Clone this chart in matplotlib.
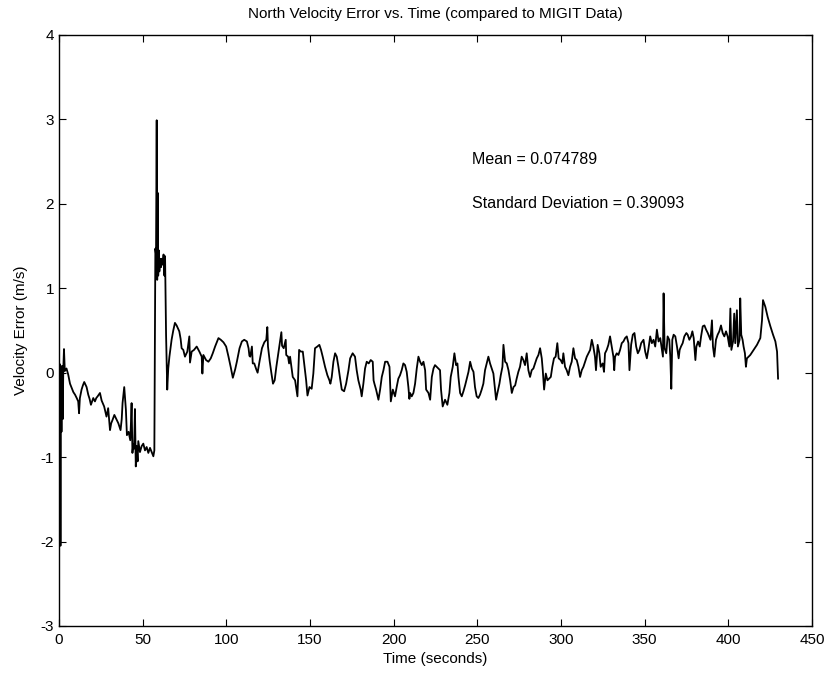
import numpy as np
import matplotlib
matplotlib.use("Agg")
import matplotlib.pyplot as plt

plt.rcParams['font.family'] = ['Liberation Sans', 'DejaVu Sans']
plt.rcParams['axes.unicode_minus'] = False

# values, split into stretches of the run
t_start = [0.0, 0.3, 0.6, 0.9, 1.2, 1.5, 1.8, 2.2, 2.6, 3.0, 3.5, 4.5, 5.5, 6.6, 7.6,
           8.6, 9.6, 10.6, 11.5, 12.0, 12.5, 13.5, 14.3, 15.1, 16.5, 17.5, 18.3, 19.1,
           20.5, 21.5, 22.3, 23.1, 24.5, 25.5, 27.0, 28.4, 29.4, 30.5, 31.2, 32.0, 33.1,
           34.5, 35.5, 36.8, 37.5, 38.0, 39.0, 40.0, 40.6, 41.6, 42.6, 43.0, 43.4, 43.9,
           44.4, 44.9, 45.4, 45.9, 46.4, 47.0, 47.4, 48.4, 49.4, 50.4, 51.4, 52.4, 53.4,
           54.4, 55.4, 56.4, 57.0]
v_start = [0.05, -0.75, 0.10, -2.05, 0.05, -0.70, 0.08, -0.55, 0.05, 0.28, 0.02, 0.05,
           -0.02, -0.13, -0.18, -0.23, -0.26, -0.30, -0.34, -0.48, -0.30, -0.20, -0.15,
           -0.11, -0.17, -0.26, -0.31, -0.38, -0.30, -0.34, -0.30, -0.28, -0.24, -0.33,
           -0.40, -0.52, -0.42, -0.68, -0.60, -0.56, -0.50, -0.56, -0.60, -0.68, -0.55,
           -0.36, -0.17, -0.44, -0.74, -0.70, -0.80, -0.60, -0.36, -0.95, -0.85, -0.90,
           -0.43, -1.11, -0.87, -1.05, -0.81, -0.94, -0.87, -0.84, -0.92, -0.88, -0.95,
           -0.89, -0.94, -0.99, -0.92]

t_jump = [57.6, 58.0, 58.4, 58.7, 59.0, 59.3, 59.6, 60.0, 60.5, 61.0, 61.5, 62.0, 62.5,
          63.0, 63.4, 64.0, 64.7, 65.3, 66.0, 67.3, 68.3, 69.3, 70.3, 71.9, 72.7, 73.3,
          74.3, 75.3, 76.7, 77.9, 78.3, 79.3, 80.7, 82.3, 83.9, 85.3, 85.7, 86.3, 87.9,
          89.3, 90.7, 91.9, 93.3, 95.3, 96.7, 98.3, 99.9, 101.3, 102.7, 103.9, 105.3,
          106.3, 107.9, 109.3, 110.7, 112.3, 113.3, 113.8, 114.3, 115.3, 115.8, 116.7,
          117.9, 118.7, 119.9, 121.3, 122.7, 123.9, 124.5, 124.9, 125.9, 126.9, 127.9,
          128.9, 129.9, 131.5, 132.9, 133.3, 134.3, 135.5, 135.8, 136.9, 137.5]
v_jump = [1.47, 1.40, 2.99, 1.10, 2.13, 1.15, 1.45, 1.20, 1.35, 1.25, 1.35, 1.28, 1.40,
          1.15, 1.38, 0.45, -0.20, 0.05, 0.19, 0.39, 0.50, 0.59, 0.56, 0.49, 0.40, 0.29,
          0.27, 0.19, 0.25, 0.43, 0.12, 0.25, 0.27, 0.31, 0.25, 0.19, -0.01, 0.21, 0.15,
          0.13, 0.17, 0.23, 0.31, 0.41, 0.39, 0.36, 0.31, 0.19, 0.06, -0.06, 0.04, 0.13,
          0.29, 0.37, 0.39, 0.37, 0.29, 0.20, 0.19, 0.31, 0.11, 0.11, 0.04, 0.00, 0.14,
          0.29, 0.36, 0.39, 0.54, 0.31, 0.14, 0.00, -0.13, -0.09, 0.07, 0.29, 0.48, 0.32,
          0.29, 0.39, 0.21, 0.19, 0.11]

t_mid = [138.1, 139.7, 141.1, 142.5, 143.0, 143.5, 144.5, 145.7, 146.5, 147.7, 148.5,
         149.7, 151.0, 152.0, 153.0, 154.4, 155.6, 156.6, 157.6, 159.0, 160.4, 161.6,
         162.2, 163.0, 164.0, 165.0, 166.0, 167.0, 168.0, 169.0, 170.4, 171.6, 173.0,
         174.0, 175.5, 176.9, 177.9, 178.9, 180.3, 180.9, 181.9, 182.9, 183.9, 185.1,
         186.3, 187.5, 188.0, 188.5, 189.5, 190.9, 191.9, 192.9, 193.9, 194.9, 196.3,
         197.5, 198.3, 199.5, 200.8, 201.8, 202.8, 203.8, 204.8, 205.8, 206.8, 207.8,
         208.8, 209.4]
v_mid = [0.19, -0.05, -0.09, -0.28, 0.00, 0.27, 0.25, 0.25, 0.11, -0.09, -0.27, -0.17,
         -0.19, -0.01, 0.29, 0.31, 0.33, 0.27, 0.19, 0.07, -0.03, -0.09, -0.13, -0.05,
         0.13, 0.23, 0.19, 0.07, -0.07, -0.20, -0.22, -0.13, 0.03, 0.17, 0.23, 0.19, 0.03,
         -0.09, -0.20, -0.28, -0.13, 0.05, 0.13, 0.11, 0.15, 0.13, -0.09, -0.13, -0.20,
         -0.32, -0.20, -0.05, 0.03, 0.13, 0.13, 0.07, -0.34, -0.20, -0.28, -0.17, -0.07,
         -0.03, 0.03, 0.11, 0.09, 0.01, -0.17, -0.31]

t_low = [209.8, 210.8, 211.8, 212.8, 213.8, 214.8, 215.8, 216.8, 217.8, 218.8, 219.4,
         220.8, 221.8, 222.8, 223.8, 224.7, 225.7, 226.7, 227.7, 228.3, 229.3, 230.7,
         232.1, 233.3, 234.1, 235.3, 236.3, 237.3, 238.1, 238.7, 239.7, 240.7, 241.7,
         242.7, 243.7, 244.7, 245.7, 246.7, 247.7, 248.6, 249.6, 250.6, 251.6, 252.6,
         253.6, 254.6, 255.6, 256.6, 257.6, 258.6, 259.6, 260.6, 261.2, 262.0, 263.2,
         264.0, 265.0, 265.6, 266.6, 267.6, 268.6, 269.6, 270.6, 271.6, 272.6, 273.5,
         274.5, 275.5, 276.5, 277.5, 278.5, 279.5, 280.5]
v_low = [-0.24, -0.28, -0.24, -0.13, 0.05, 0.19, 0.13, 0.09, 0.13, 0.03, -0.20, -0.24,
         -0.32, -0.05, 0.05, 0.09, 0.07, 0.05, 0.03, -0.20, -0.40, -0.32, -0.38, -0.24,
         -0.05, 0.07, 0.23, 0.09, 0.11, -0.05, -0.24, -0.28, -0.22, -0.15, -0.07, 0.01,
         0.13, 0.05, 0.01, -0.17, -0.28, -0.30, -0.26, -0.20, -0.13, 0.03, 0.11, 0.19,
         0.11, 0.05, -0.01, -0.20, -0.32, -0.24, -0.13, -0.03, 0.07, 0.33, 0.13, 0.11,
         0.03, -0.09, -0.24, -0.17, -0.15, -0.07, 0.01, 0.07, 0.19, 0.15, 0.09, 0.23, 0.03]

t_rise = [281.5, 282.5, 283.5, 284.5, 285.5, 286.5, 287.5, 288.5, 289.1, 289.9, 290.9,
          291.9, 292.9, 293.9, 294.8, 295.8, 296.8, 297.8, 298.6, 299.8, 300.8, 301.4,
          302.4, 303.4, 304.4, 305.4, 306.4, 307.4, 308.4, 309.4, 310.4, 311.4, 312.4,
          313.4, 314.4, 315.4, 316.4, 317.4, 318.4, 319.3, 320.3, 320.9, 321.9, 322.9,
          323.7, 324.9, 325.7, 326.3, 327.3, 328.3, 329.3, 330.3, 331.3, 331.8, 332.3,
          333.3, 334.3, 335.3, 336.3, 337.3, 338.3, 339.3, 340.3, 340.9, 341.9, 342.9,
          343.9, 344.9, 345.9, 346.9, 347.9, 349.3, 350.3, 351.3, 352.3]
v_rise = [-0.05, 0.03, 0.05, 0.11, 0.17, 0.21, 0.29, 0.17, 0.03, -0.20, -0.01, -0.09,
          -0.07, -0.05, 0.07, 0.17, 0.19, 0.35, 0.17, 0.15, 0.11, 0.23, 0.07, 0.03, -0.03,
          0.07, 0.13, 0.29, 0.17, 0.15, 0.07, -0.05, 0.03, 0.07, 0.13, 0.19, 0.23, 0.27,
          0.39, 0.31, 0.19, 0.03, 0.33, 0.23, 0.07, 0.11, 0.01, 0.23, 0.27, 0.33, 0.43,
          0.31, 0.19, 0.03, 0.19, 0.23, 0.21, 0.27, 0.35, 0.37, 0.41, 0.43, 0.35, 0.03,
          0.33, 0.45, 0.47, 0.31, 0.23, 0.27, 0.35, 0.39, 0.25, 0.17, 0.29]

t_end = [353.3, 354.3, 355.3, 356.3, 357.3, 358.3, 359.3, 360.3, 360.9, 361.3, 361.9,
         362.9, 363.7, 364.7, 365.3, 365.9, 366.5, 367.3, 368.3, 369.3, 370.3, 370.9,
         371.7, 372.7, 373.7, 374.9, 375.7, 376.7, 377.7, 378.5, 379.3, 380.3, 380.9,
         381.9, 382.9, 383.7, 384.7, 385.7, 386.7, 387.7, 388.5, 389.3, 390.2, 390.8,
         391.6, 392.6, 393.6, 394.6, 395.6, 396.6, 397.6, 398.6, 399.6, 400.6, 401.2,
         401.8, 402.8, 403.5, 404.1, 405.1, 405.7, 406.7, 407.1, 407.7, 408.5, 409.1,
         409.9, 410.5, 411.1, 413.1, 415.1, 417.1, 419.1, 420.1, 420.7, 422.1, 423.5,
         425.1, 426.7, 428.1, 429.1, 429.7]
v_end = [0.43, 0.35, 0.39, 0.31, 0.51, 0.37, 0.41, 0.27, 0.19, 0.94, 0.29, 0.23, 0.43,
         0.39, 0.19, -0.19, 0.39, 0.45, 0.43, 0.31, 0.17, 0.27, 0.31, 0.35, 0.43, 0.47,
         0.45, 0.39, 0.43, 0.49, 0.41, 0.15, 0.31, 0.37, 0.31, 0.43, 0.55, 0.56, 0.51,
         0.47, 0.43, 0.39, 0.62, 0.31, 0.19, 0.39, 0.45, 0.49, 0.56, 0.47, 0.43, 0.49,
         0.43, 0.31, 0.76, 0.27, 0.37, 0.70, 0.35, 0.74, 0.31, 0.39, 0.88, 0.45, 0.39,
         0.31, 0.23, 0.07, 0.17, 0.21, 0.27, 0.33, 0.41, 0.62, 0.86, 0.78, 0.66, 0.55,
         0.45, 0.37, 0.25, -0.07]

t = np.concatenate([t_start, t_jump, t_mid, t_low, t_rise, t_end])
v = np.concatenate([v_start, v_jump, v_mid, v_low, v_rise, v_end])

mean_text = "Mean = 0.074789"
std_text = "Standard Deviation = 0.39093"

fig = plt.figure(figsize=(8.27, 6.78), dpi=100)
ax = fig.add_axes([0.0713, 0.0767, 0.9106, 0.8717])

ax.plot(t, v, color='black', linewidth=1.3)

ax.set_xlim(0, 450)
ax.set_ylim(-3, 4)
ax.set_xticks(np.arange(0, 451, 50))
ax.set_yticks(np.arange(-3, 5, 1))
ax.tick_params(direction='in', top=True, right=True, length=5, labelsize=11)
ax.tick_params(axis='x', pad=5)
for s in ax.spines.values():
    s.set_linewidth(1.0)

ax.text(247, 2.52, mean_text, fontsize=11.5, va='center')
ax.text(247, 2.01, std_text, fontsize=11.5, va='center')

ax.set_title("North Velocity Error vs. Time (compared to MIGIT Data)", fontsize=11, pad=12)
ax.set_xlabel("Time (seconds)", fontsize=11, labelpad=4)
ax.set_ylabel("Velocity Error (m/s)", fontsize=11, labelpad=9)

plt.savefig('out.png', dpi=100)
